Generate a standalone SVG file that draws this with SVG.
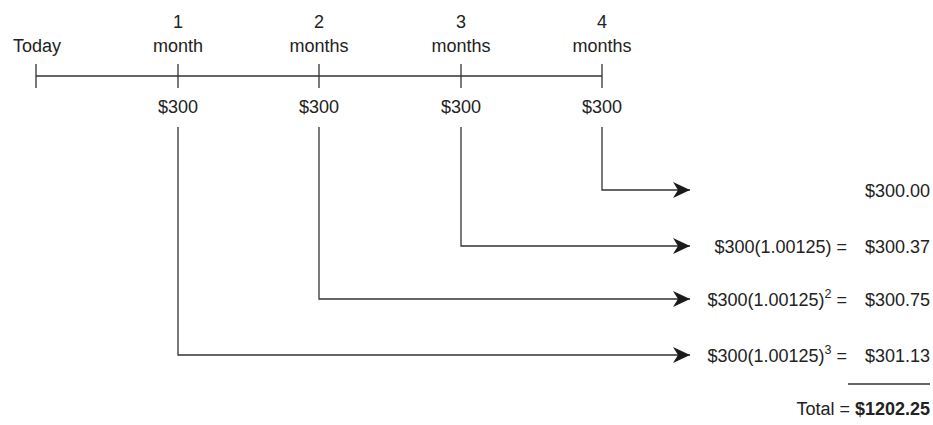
<svg xmlns="http://www.w3.org/2000/svg" width="933" height="425" viewBox="0 0 933 425">
<defs>
<marker id="arr" markerUnits="userSpaceOnUse" markerWidth="18" markerHeight="18" viewBox="0 0 18 18" refX="17" refY="9" orient="auto">
<path d="M0,1 L17,9 L0,17 L5,9 Z" fill="#1a1a1a"/>
</marker>
<style>
text{font-family:"Liberation Sans",Arial,sans-serif;font-size:18px;fill:#222}
.c{text-anchor:middle}
.e{text-anchor:end}
.ln{stroke:#333;stroke-width:1.3;fill:none}
.sup{font-size:12.5px}
</style>
</defs>
<rect width="933" height="425" fill="#fff"/>
<g id="timeline">
<line class="ln" x1="36" y1="76" x2="602" y2="76"/>
<line class="ln" x1="36" y1="64" x2="36" y2="88"/>
<line class="ln" x1="178" y1="64" x2="178" y2="88"/>
<line class="ln" x1="319" y1="64" x2="319" y2="88"/>
<line class="ln" x1="461" y1="64" x2="461" y2="88"/>
<line class="ln" x1="602" y1="64" x2="602" y2="88"/>
</g>
<g id="today"><text class="c" x="37" y="52">Today</text></g>
<g id="m1"><text class="c" x="178" y="28">1</text><text class="c" x="178" y="52">month</text><text class="c" x="178" y="113">$300</text></g>
<g id="m2"><text class="c" x="319" y="28">2</text><text class="c" x="319" y="52">months</text><text class="c" x="319" y="113">$300</text></g>
<g id="m3"><text class="c" x="461" y="28">3</text><text class="c" x="461" y="52">months</text><text class="c" x="461" y="113">$300</text></g>
<g id="m4"><text class="c" x="602" y="28">4</text><text class="c" x="602" y="52">months</text><text class="c" x="602" y="113">$300</text></g>
<g id="connectors">
<polyline class="ln" points="602,127 602,190 690,190" marker-end="url(#arr)"/>
<polyline class="ln" points="461,127 461,246 690,246" marker-end="url(#arr)"/>
<polyline class="ln" points="319,127 319,299 690,299" marker-end="url(#arr)"/>
<polyline class="ln" points="178,127 178,355 690,355" marker-end="url(#arr)"/>
</g>
<g id="r1"><text class="e" x="930" y="197">$300.00</text></g>
<g id="r2"><text class="e" x="847" y="253">$300(1.00125) =</text><text class="e" x="930" y="253">$300.37</text></g>
<g id="r3"><text class="e" x="847" y="306">$300(1.00125)<tspan class="sup" dy="-8">2</tspan><tspan dy="8"> =</tspan></text><text class="e" x="930" y="306">$300.75</text></g>
<g id="r4"><text class="e" x="847" y="362">$300(1.00125)<tspan class="sup" dy="-8">3</tspan><tspan dy="8"> =</tspan></text><text class="e" x="930" y="362">$301.13</text></g>
<g id="total"><line class="ln" x1="848" y1="384" x2="930" y2="384"/><text class="e" x="930" y="415">Total = <tspan font-weight="bold">$1202.25</tspan></text></g>
</svg>
